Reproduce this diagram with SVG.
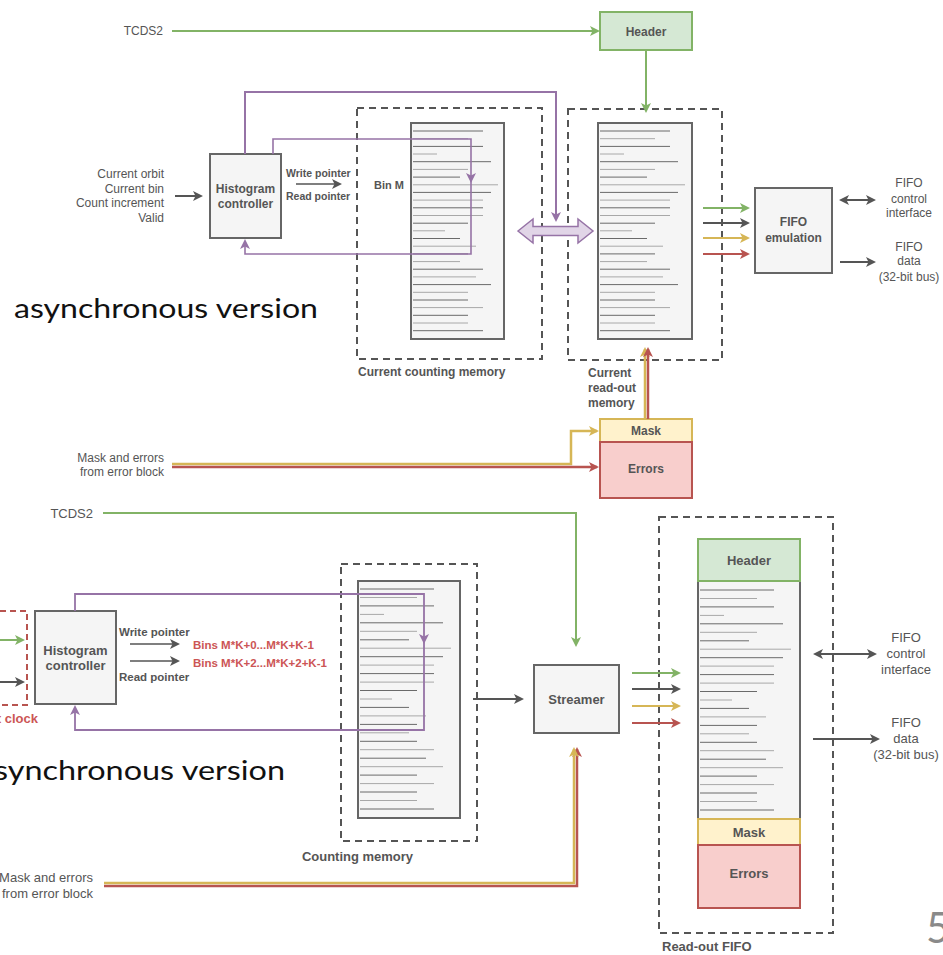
<svg xmlns="http://www.w3.org/2000/svg" width="943" height="955" viewBox="0 0 943 955">
<style>
.t{font-family:"Liberation Sans",Arial,sans-serif;fill:#555}
.b{font-weight:bold}
.m{text-anchor:middle}
.e{text-anchor:end}
.box{fill:#f5f5f5;stroke:#666;stroke-width:2}
.dash{fill:none;stroke:#555;stroke-width:2;stroke-dasharray:7 5}
.ln{fill:none;stroke-width:2}
.green{stroke:#82b366}
.gray{stroke:#555}
.yel{stroke:#d6b656}
.red{stroke:#b85450}
.pur{stroke:#9673a6}
.r1{stroke:#6a6a6a;stroke-width:1}
.r2{stroke:#a8a8a8;stroke-width:1}
.big{font-family:Lato,"Open Sans","Liberation Sans",sans-serif;fill:#111;font-size:26px}
</style>
<defs>
<marker id="ag" viewBox="0 0 10 10" refX="8" refY="5" markerWidth="10" markerHeight="10" markerUnits="userSpaceOnUse" orient="auto-start-reverse"><path d="M0,0 L10,5 L0,10 L2.5,5 z" fill="#82b366"/></marker>
<marker id="ak" viewBox="0 0 10 10" refX="8" refY="5" markerWidth="10" markerHeight="10" markerUnits="userSpaceOnUse" orient="auto-start-reverse"><path d="M0,0 L10,5 L0,10 L2.5,5 z" fill="#555"/></marker>
<marker id="ay" viewBox="0 0 10 10" refX="8" refY="5" markerWidth="10" markerHeight="10" markerUnits="userSpaceOnUse" orient="auto-start-reverse"><path d="M0,0 L10,5 L0,10 L2.5,5 z" fill="#d6b656"/></marker>
<marker id="ar" viewBox="0 0 10 10" refX="8" refY="5" markerWidth="10" markerHeight="10" markerUnits="userSpaceOnUse" orient="auto-start-reverse"><path d="M0,0 L10,5 L0,10 L2.5,5 z" fill="#b85450"/></marker>
<marker id="ap" viewBox="0 0 10 10" refX="8" refY="5" markerWidth="10" markerHeight="10" markerUnits="userSpaceOnUse" orient="auto-start-reverse"><path d="M0,0 L10,5 L0,10 L2.5,5 z" fill="#9673a6"/></marker>
<g id="rows-top">
<line class="r1" x1="0" y1="0" x2="70" y2="0"/><line class="r2" x1="0" y1="7.7" x2="55" y2="7.7"/>
<line class="r1" x1="0" y1="15.4" x2="70" y2="15.4"/><line class="r2" x1="0" y1="23" x2="24" y2="23"/>
<line class="r1" x1="0" y1="30.7" x2="78" y2="30.7"/><line class="r2" x1="0" y1="38.4" x2="55" y2="38.4"/>
<line class="r1" x1="0" y1="46.1" x2="47" y2="46.1"/><line class="r2" x1="0" y1="53.8" x2="85" y2="53.8"/>
<line class="r1" x1="0" y1="61.4" x2="78" y2="61.4"/><line class="r2" x1="0" y1="69.1" x2="70" y2="69.1"/>
<line class="r1" x1="0" y1="76.8" x2="70" y2="76.8"/><line class="r2" x1="0" y1="84.5" x2="70" y2="84.5"/>
<line class="r1" x1="0" y1="92.2" x2="55" y2="92.2"/><line class="r2" x1="0" y1="99.8" x2="32" y2="99.8"/>
<line class="r1" x1="0" y1="107.5" x2="47" y2="107.5"/><line class="r2" x1="0" y1="115.2" x2="63" y2="115.2"/>
<line class="r1" x1="0" y1="122.9" x2="55" y2="122.9"/><line class="r2" x1="0" y1="130.6" x2="47" y2="130.6"/>
<line class="r1" x1="0" y1="138.2" x2="70" y2="138.2"/><line class="r2" x1="0" y1="145.9" x2="63" y2="145.9"/>
<line class="r1" x1="0" y1="153.6" x2="78" y2="153.6"/><line class="r2" x1="0" y1="161.3" x2="55" y2="161.3"/>
<line class="r1" x1="0" y1="169" x2="55" y2="169"/><line class="r2" x1="0" y1="176.6" x2="70" y2="176.6"/>
<line class="r1" x1="0" y1="184.3" x2="55" y2="184.3"/><line class="r2" x1="0" y1="192" x2="55" y2="192"/>
<line class="r1" x1="0" y1="199.7" x2="70" y2="199.7"/>
</g>
<g id="rows-bot">
<line class="r1" x1="0" y1="0" x2="74" y2="0"/><line class="r2" x1="0" y1="8.5" x2="57" y2="8.5"/>
<line class="r1" x1="0" y1="16.9" x2="74" y2="16.9"/><line class="r2" x1="0" y1="25.4" x2="24" y2="25.4"/>
<line class="r1" x1="0" y1="33.8" x2="83" y2="33.8"/><line class="r2" x1="0" y1="42.3" x2="57" y2="42.3"/>
<line class="r1" x1="0" y1="50.8" x2="49" y2="50.8"/><line class="r2" x1="0" y1="59.2" x2="91" y2="59.2"/>
<line class="r1" x1="0" y1="67.7" x2="83" y2="67.7"/><line class="r2" x1="0" y1="76.1" x2="74" y2="76.1"/>
<line class="r1" x1="0" y1="84.6" x2="74" y2="84.6"/><line class="r2" x1="0" y1="93.1" x2="74" y2="93.1"/>
<line class="r1" x1="0" y1="101.5" x2="57" y2="101.5"/><line class="r2" x1="0" y1="110" x2="32" y2="110"/>
<line class="r1" x1="0" y1="118.4" x2="49" y2="118.4"/><line class="r2" x1="0" y1="126.9" x2="66" y2="126.9"/>
<line class="r1" x1="0" y1="135.4" x2="57" y2="135.4"/><line class="r2" x1="0" y1="143.8" x2="49" y2="143.8"/>
<line class="r1" x1="0" y1="152.3" x2="57" y2="152.3"/><line class="r2" x1="0" y1="160.7" x2="74" y2="160.7"/>
<line class="r1" x1="0" y1="169.2" x2="66" y2="169.2"/><line class="r2" x1="0" y1="177.7" x2="83" y2="177.7"/>
<line class="r1" x1="0" y1="186.1" x2="57" y2="186.1"/><line class="r2" x1="0" y1="194.6" x2="74" y2="194.6"/>
<line class="r1" x1="0" y1="203" x2="57" y2="203"/><line class="r2" x1="0" y1="211.5" x2="57" y2="211.5"/>
<line class="r1" x1="0" y1="220" x2="74" y2="220"/>
</g>
</defs>
<rect width="943" height="955" fill="#fff"/>

<!-- ===== asynchronous version (top) ===== -->
<g id="top-labels">
<text class="t e" x="163" y="35" font-size="12">TCDS2</text>
<text class="t e" x="164" y="178" font-size="12">Current orbit</text>
<text class="t e" x="164" y="193" font-size="12">Current bin</text>
<text class="t e" x="164" y="207" font-size="12">Count increment</text>
<text class="t e" x="164" y="222" font-size="12">Valid</text>
<text class="t b" x="286" y="177" font-size="10.5">Write pointer</text>
<text class="t b" x="286" y="200" font-size="10.5">Read pointer</text>
<text class="t e" x="164" y="462" font-size="12">Mask and errors</text>
<text class="t e" x="164" y="476" font-size="12">from error block</text>
<text class="big" x="14" y="318" textLength="304" lengthAdjust="spacingAndGlyphs">asynchronous version</text>
</g>

<g id="top-header">
<rect x="600" y="12" width="92" height="38" fill="#d5e8d4" stroke="#82b366" stroke-width="2"/>
<text class="t b m" x="646" y="35.5" font-size="12">Header</text>
</g>

<g id="top-histogram-controller">
<rect class="box" x="210" y="154" width="71" height="84"/>
<text class="t b m" x="245.5" y="193" font-size="12">Histogram</text>
<text class="t b m" x="245.5" y="207.5" font-size="12">controller</text>
</g>

<g id="top-counting-memory">
<rect class="dash" x="357" y="108" width="185" height="251"/>
<rect class="box" x="411" y="123" width="93" height="216"/>
<use href="#rows-top" x="413" y="131"/>
<text class="t b" x="374" y="189" font-size="11">Bin M</text>
<text class="t b" x="358" y="376" font-size="12">Current counting memory</text>
</g>

<g id="top-readout-memory">
<rect class="dash" x="568" y="109" width="154" height="251"/>
<rect class="box" x="598" y="123" width="94" height="216"/>
<use href="#rows-top" x="600" y="131"/>
<text class="t b" x="588" y="377" font-size="12">Current</text>
<text class="t b" x="588" y="392" font-size="12">read-out</text>
<text class="t b" x="588" y="407" font-size="12">memory</text>
</g>

<g id="top-fifo-emulation">
<rect class="box" x="755" y="188" width="77" height="85"/>
<text class="t b m" x="793.5" y="226" font-size="12">FIFO</text>
<text class="t b m" x="793.5" y="242" font-size="12">emulation</text>
</g>

<g id="top-fifo-labels">
<text class="t m" x="909" y="187" font-size="12">FIFO</text>
<text class="t m" x="909" y="203" font-size="12">control</text>
<text class="t m" x="909" y="217" font-size="12">interface</text>
<text class="t m" x="909" y="251" font-size="12">FIFO</text>
<text class="t m" x="909" y="265" font-size="12">data</text>
<text class="t m" x="909" y="281" font-size="12">(32-bit bus)</text>
</g>

<g id="top-mask-errors">
<rect x="600" y="419" width="92" height="23" fill="#fff2cc" stroke="#d6b656" stroke-width="2"/>
<rect x="600" y="442" width="92" height="56" fill="#f8cecc" stroke="#b85450" stroke-width="2"/>
<text class="t b m" x="646" y="435" font-size="12">Mask</text>
<text class="t b m" x="646" y="472.5" font-size="12">Errors</text>
</g>

<g id="top-connectors">
<path class="ln green" d="M172,31 H598" marker-end="url(#ag)"/>
<path class="ln green" d="M646,50 V111" marker-end="url(#ag)"/>
<path class="ln gray" d="M175,196 H201" marker-end="url(#ak)"/>
<path class="ln gray" stroke-width="1.5" d="M296,184 H340" marker-end="url(#ak)" style="stroke-width:1.5"/>
<path class="ln pur" d="M245,154 V92 H556 V220" marker-end="url(#ap)"/>
<path class="ln pur" style="stroke-width:1.6" d="M273,154 V139 H471 V181" marker-end="url(#ap)"/>
<path class="ln pur" style="stroke-width:1.6" d="M471,180 V254 H245 V241" marker-end="url(#ap)"/>
<polygon points="518,231 533,219 533,226.5 578,226.5 578,219 593,231 578,243 578,235.5 533,235.5 533,243" fill="#e1d5e7" stroke="#9673a6" stroke-width="1.5"/>
<path class="ln green" d="M703,208 H748" marker-end="url(#ag)"/>
<path class="ln gray" d="M703,223 H748" marker-end="url(#ak)"/>
<path class="ln yel" d="M703,238 H748" marker-end="url(#ay)"/>
<path class="ln red" d="M703,254 H748" marker-end="url(#ar)"/>
<path class="ln gray" d="M841,200 H874" marker-start="url(#ak)" marker-end="url(#ak)"/>
<path class="ln gray" d="M840,262 H874" marker-end="url(#ak)"/>
<path class="ln yel" style="stroke-width:2.5" d="M172,464 H571 V431 H597" marker-end="url(#ay)"/>
<path class="ln red" style="stroke-width:2.5" d="M172,467 H597" marker-end="url(#ar)"/>
<path class="ln yel" style="stroke-width:2.5" d="M645,419 V349" marker-end="url(#ay)"/>
<path class="ln red" style="stroke-width:2.5" d="M648,419 V349" marker-end="url(#ar)"/>
</g>

<!-- ===== synchronous version (bottom) ===== -->
<g id="bottom-labels">
<text class="t e" x="93" y="517.5" font-size="13">TCDS2</text>
<text class="t b" x="119" y="635.5" font-size="11.5">Write pointer</text>
<text class="t b" x="119" y="681" font-size="11.5">Read pointer</text>
<text class="t b" x="193" y="649" font-size="11.5" style="fill:#cc5555">Bins M*K+0...M*K+K-1</text>
<text class="t b" x="193" y="666.5" font-size="11.5" style="fill:#cc5555">Bins M*K+2...M*K+2+K-1</text>
<text class="t b e" x="38" y="722.5" font-size="13" style="fill:#cc5555">t clock</text>
<text class="t e" x="93" y="881.5" font-size="13">Mask and errors</text>
<text class="t e" x="93" y="897.5" font-size="13">from error block</text>
<text class="big" x="-6" y="780" textLength="291" lengthAdjust="spacingAndGlyphs">synchronous version</text>
<text x="926" y="943" font-family="Lato,'Liberation Sans',sans-serif" font-size="42" fill="#8a8a8a">5</text>
</g>

<g id="bottom-clock-domain">
<rect x="-10" y="611" width="37" height="94" fill="none" stroke="#b85450" stroke-width="2" stroke-dasharray="6 4"/>
</g>

<g id="bottom-histogram-controller">
<rect class="box" x="35" y="611" width="81" height="93"/>
<text class="t b m" x="75.5" y="655" font-size="13">Histogram</text>
<text class="t b m" x="75.5" y="670" font-size="13">controller</text>
</g>

<g id="bottom-counting-memory">
<rect class="dash" x="341" y="564" width="136" height="277"/>
<rect class="box" x="358" y="581" width="102" height="237"/>
<use href="#rows-bot" x="360" y="589"/>
<text class="t b m" x="357.5" y="860.5" font-size="13">Counting memory</text>
</g>

<g id="bottom-streamer">
<rect class="box" x="534" y="665" width="85" height="68"/>
<text class="t b m" x="576.5" y="703.5" font-size="13">Streamer</text>
</g>

<g id="bottom-readout-fifo">
<rect class="dash" x="659" y="517" width="174" height="416"/>
<rect class="box" x="698" y="581" width="102" height="238"/>
<use href="#rows-bot" x="700" y="590"/>
<rect x="698" y="539" width="102" height="42" fill="#d5e8d4" stroke="#82b366" stroke-width="2"/>
<text class="t b m" x="749" y="564.5" font-size="13">Header</text>
<rect x="698" y="819" width="102" height="26" fill="#fff2cc" stroke="#d6b656" stroke-width="2"/>
<text class="t b m" x="749" y="836.5" font-size="13">Mask</text>
<rect x="698" y="845" width="102" height="63" fill="#f8cecc" stroke="#b85450" stroke-width="2"/>
<text class="t b m" x="749" y="877.5" font-size="13">Errors</text>
<text class="t b" x="662" y="950.5" font-size="13">Read-out FIFO</text>
</g>

<g id="bottom-fifo-labels">
<text class="t m" x="906" y="641.5" font-size="13">FIFO</text>
<text class="t m" x="906" y="657.5" font-size="13">control</text>
<text class="t m" x="906" y="673.5" font-size="13">interface</text>
<text class="t m" x="906" y="726.5" font-size="13">FIFO</text>
<text class="t m" x="906" y="742.5" font-size="13">data</text>
<text class="t m" x="906" y="758.5" font-size="13">(32-bit bus)</text>
</g>

<g id="bottom-connectors">
<path class="ln green" d="M103,513 H576 V645" marker-end="url(#ag)"/>
<path class="ln green" d="M0,640 H23" marker-end="url(#ag)"/>
<path class="ln gray" d="M0,682 H23" marker-end="url(#ak)"/>
<path class="ln pur" style="stroke-width:1.8" d="M75,611 V594 H424 V642" marker-end="url(#ap)"/>
<path class="ln pur" style="stroke-width:1.8" d="M424,641 V730 H75 V707" marker-end="url(#ap)"/>
<path class="ln gray" style="stroke-width:1.5" d="M130,644 H178" marker-end="url(#ak)"/>
<path class="ln gray" style="stroke-width:1.5" d="M130,661 H178" marker-end="url(#ak)"/>
<path class="ln gray" d="M473,699 H522" marker-end="url(#ak)"/>
<path class="ln red" style="stroke-width:2.5" d="M104,886 H577 V749" marker-end="url(#ar)"/>
<path class="ln yel" style="stroke-width:2.5" d="M104,883 H574 V749" marker-end="url(#ay)"/>
<path class="ln green" d="M632,673 H679" marker-end="url(#ag)"/>
<path class="ln gray" d="M632,689 H679" marker-end="url(#ak)"/>
<path class="ln yel" d="M632,706 H679" marker-end="url(#ay)"/>
<path class="ln red" d="M632,723 H679" marker-end="url(#ar)"/>
<path class="ln gray" d="M815,654 H875" marker-start="url(#ak)" marker-end="url(#ak)"/>
<path class="ln gray" d="M813,739 H878" marker-end="url(#ak)"/>
</g>
</svg>
